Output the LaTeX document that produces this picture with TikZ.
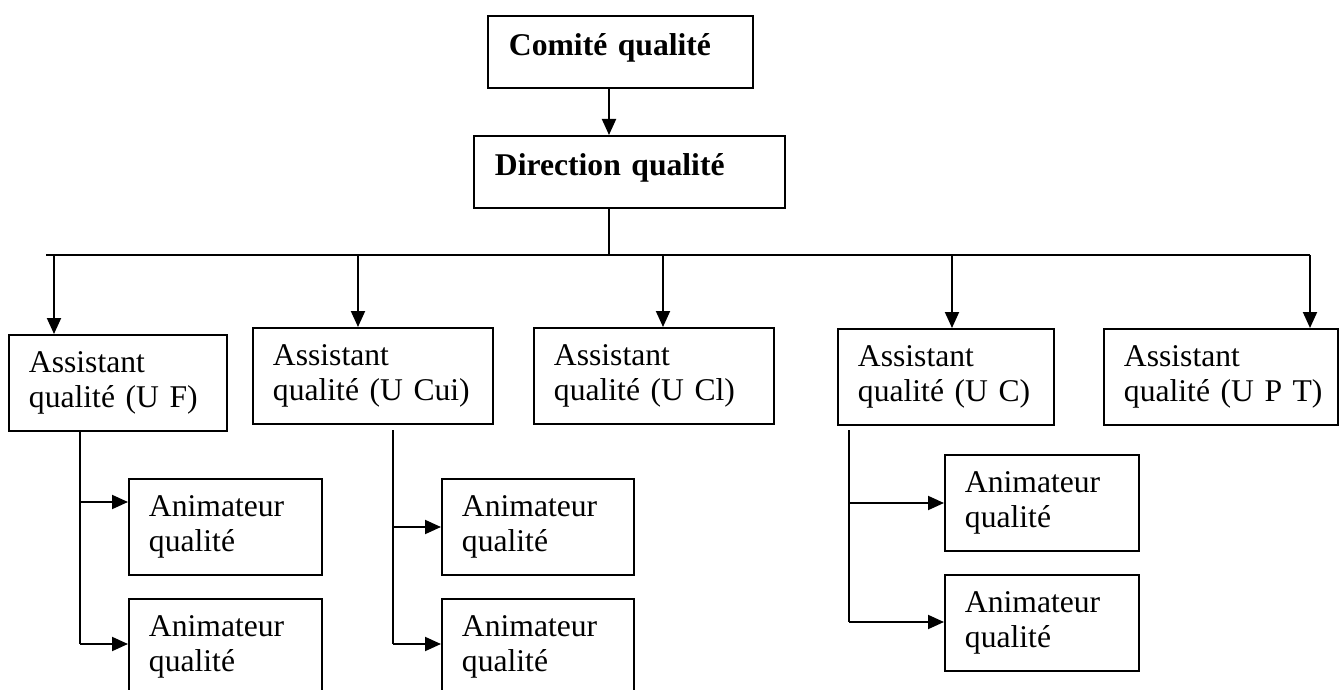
\documentclass[tikz,border=0pt]{standalone}
\usepackage{fontspec}
\setmainfont{Liberation Serif}
\usetikzlibrary{arrows.meta,positioning,calc}

\begin{document}
\begin{tikzpicture}[
      line width=1.1pt,
      every node/.style={font=\fontsize{18}{20}\selectfont},
      arr/.style={-{Triangle[length=0.32cm,width=0.28cm]}},
      titlebox/.style={draw, anchor=north west, align=left, font=\fontsize{18}{20}\selectfont\bfseries,
        inner xsep=0.42cm, inner ysep=0pt, text height=0.8cm, text depth=0.64cm, text width=#1},
      unitbox/.style={draw, anchor=north west, align=left, inner xsep=0.4cm,
        minimum height=1.92cm, text width=#1}
    ]
    \useasboundingbox (0,0) rectangle (26.78,-13.8);
    \clip (0,0) rectangle (26.78,-13.8);
    % top of the chart
    \node[titlebox=4.46cm] (comite) at (9.74,-0.30) {Comité qualité};
    \node[titlebox=5.38cm] (direction) at (9.46,-2.70) {Direction qualité};
    % assistants
    \node[unitbox=3.56cm] (uf) at (0.16,-6.68) {Assistant\\\mbox{qualité (U F)}};
    \node[unitbox=4.00cm] (ucui) at (5.04,-6.54) {Assistant\\\mbox{qualité (U Cui)}};
    \node[unitbox=4.00cm] (ucl) at (10.66,-6.54) {Assistant\\\mbox{qualité (U Cl)}};
    \node[unitbox=3.52cm] (uc) at (16.74,-6.56) {Assistant\\\mbox{qualité (U C)}};
    \node[unitbox=3.88cm] (upt) at (22.06,-6.56) {Assistant\\\mbox{qualité (U P T)}};
    % animateurs
    \node[unitbox=3.06cm] (uf1) at (2.56,-9.56) {Animateur\\qualité};
    \node[unitbox=3.06cm] (uf2) at (2.56,-11.96) {Animateur\\qualité};
    \node[unitbox=3.04cm] (ucui1) at (8.82,-9.56) {Animateur\\qualité};
    \node[unitbox=3.04cm] (ucui2) at (8.82,-11.96) {Animateur\\qualité};
    \node[unitbox=3.08cm] (uc1) at (18.88,-9.08) {Animateur\\qualité};
    \node[unitbox=3.08cm] (uc2) at (18.88,-11.48) {Animateur\\qualité};

    % spine and bar
    \coordinate (sp) at (12.18,-5.10);
    \coordinate (barL) at (0.92,-5.10);
    \coordinate (d1) at (1.08,-5.10);
    \coordinate (d2) at (7.16,-5.10);
    \coordinate (d3) at (13.26,-5.10);
    \coordinate (d4) at (19.04,-5.10);
    \coordinate (d5) at (26.20,-5.10);
    \draw[arr] (comite.south -| sp) -- (direction.north -| sp);
    \draw (direction.south -| sp) -- (sp);
    \draw (barL) -- (d5);
    \foreach \d/\u in {d1/uf, d2/ucui, d3/ucl, d4/uc, d5/upt}
      \draw[arr] (\d) -- (\d |- \u.north);

    % branches to the animateurs
    \coordinate (tf) at (1.60,-8.62);
    \coordinate (tf1) at (1.60,-10.04);
    \coordinate (tf2) at (1.60,-12.88);
    \draw (tf) -- (tf2);
    \draw[arr] (tf1) -- (tf1 -| uf1.west);
    \draw[arr] (tf2) -- (tf2 -| uf2.west);

    \coordinate (tc) at (7.86,-8.60);
    \coordinate (tc1) at (7.86,-10.54);
    \coordinate (tc2) at (7.86,-12.88);
    \draw (tc) -- (tc2);
    \draw[arr] (tc1) -- (tc1 -| ucui1.west);
    \draw[arr] (tc2) -- (tc2 -| ucui2.west);

    \coordinate (tu) at (16.98,-8.60);
    \coordinate (tu1) at (16.98,-10.06);
    \coordinate (tu2) at (16.98,-12.44);
    \draw (tu) -- (tu2);
    \draw[arr] (tu1) -- (tu1 -| uc1.west);
    \draw[arr] (tu2) -- (tu2 -| uc2.west);
  \end{tikzpicture}
\end{document}
